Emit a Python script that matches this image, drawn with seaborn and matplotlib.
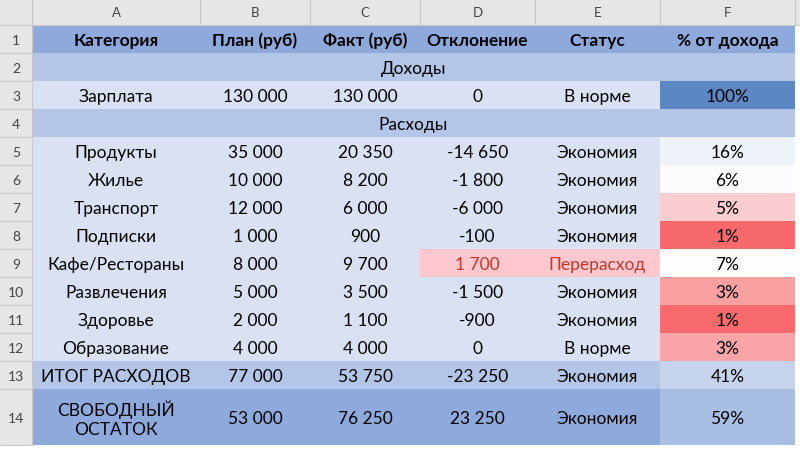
import matplotlib
matplotlib.use("Agg")
import matplotlib.pyplot as plt
from matplotlib.patches import Rectangle
import seaborn as sns

sns.set_theme(style="white")
plt.rcParams['font.family'] = ['Lato', 'DejaVu Sans']

headers = ["Категория", "План (руб)", "Факт (руб)", "Отклонение", "Статус", "% от дохода"]
categories = ["Продукты", "Жилье", "Транспорт", "Подписки", "Кафе/Рестораны",
              "Развлечения", "Здоровье", "Образование"]
plan = ["35 000", "10 000", "12 000", "1 000", "8 000", "5 000", "2 000", "4 000"]
fact = ["20 350", "8 200", "6 000", "900", "9 700", "3 500", "1 100", "4 000"]
dev = ["-14 650", "-1 800", "-6 000", "-100", "1 700", "-1 500", "-900", "0"]
status = ["Экономия"] * 4 + ["Перерасход", "Экономия", "Экономия", "В норме"]
pct = ["16%", "6%", "5%", "1%", "7%", "3%", "1%", "3%"]
pct_colors = ["#EEF2F9", "#FCFCFE", "#FBCDD0", "#F8696B", "#FDFDFE", "#F9A0A2", "#F86A6C", "#F9A5A7"]

fig = plt.figure(figsize=(8, 4.56), dpi=100)
ax = fig.add_axes([0, 0, 1, 1])
ax.set_xlim(0, 800)
ax.set_ylim(456, 0)
ax.axis("off")

col_x = [32, 200, 310, 420, 535, 660, 795]
row_y = [26, 54, 82, 110, 138, 166, 194, 222, 250, 278, 306, 334, 362, 390, 446]
FS = 12.5

def cell(c0, c1, r, color, text="", tcolor="black", bold=False):
    x0, x1 = col_x[c0], col_x[c1]
    y0, y1 = row_y[r], row_y[r + 1]
    ax.add_patch(Rectangle((x0, y0), x1 - x0, y1 - y0, facecolor=color, edgecolor="none"))
    if text:
        ax.text((x0 + x1) / 2, (y0 + y1) / 2 + 1, text, ha="center", va="center",
                fontsize=FS, color=tcolor, fontweight="bold" if bold else "normal",
                linespacing=1.25)

# Excel chrome
ax.add_patch(Rectangle((0, 0), 800, 26, facecolor="#E6E6E6", edgecolor="none"))
ax.add_patch(Rectangle((0, 0), 32, 446, facecolor="#E6E6E6", edgecolor="none"))
for i, l in enumerate("ABCDEF"):
    ax.text((col_x[i] + col_x[i + 1]) / 2, 13, l, ha="center", va="center", fontsize=9.5, color="#444444")
    ax.plot([col_x[i + 1]] * 2, [0, 26], color="#C8C8C8", lw=0.8)
for r in range(14):
    ax.text(16, (row_y[r] + row_y[r + 1]) / 2 + 1, str(r + 1), ha="center", va="center", fontsize=10, color="#444444")
    ax.plot([0, 32], [row_y[r + 1]] * 2, color="#C8C8C8", lw=0.8)
ax.plot([32, 32], [0, 446], color="#C8C8C8", lw=0.8)
ax.plot([0, 800], [26, 26], color="#C8C8C8", lw=0.8)
ax.add_patch(Rectangle((0, 446), 800, 10, facecolor="white", edgecolor="none"))

# header
for i, h in enumerate(headers):
    cell(i, i + 1, 0, "#8EA9DB", h, bold=True)
cell(0, 6, 1, "#B4C6E7", "Доходы")
for i, v in enumerate(["Зарплата", "130 000", "130 000", "0", "В норме"]):
    cell(i, i + 1, 2, "#D9E1F2", v)
cell(5, 6, 2, "#5B87C5", "100%")
cell(0, 6, 3, "#B4C6E7", "Расходы")

for k in range(len(categories)):
    r = 4 + k
    vals = [categories[k], plan[k], fact[k], dev[k], status[k]]
    for i, v in enumerate(vals):
        if k == 4 and i in (3, 4):
            cell(i, i + 1, r, "#FFC7CE", v, tcolor="#C0392B")
        else:
            cell(i, i + 1, r, "#D9E1F2", v)
    cell(5, 6, r, pct_colors[k], pct[k])

for i, v in enumerate(["ИТОГ РАСХОДОВ", "77 000", "53 750", "-23 250", "Экономия"]):
    cell(i, i + 1, 12, "#B4C6E7", v)
cell(5, 6, 12, "#C5D3EC", "41%")
for i, v in enumerate(["СВОБОДНЫЙ\nОСТАТОК", "53 000", "76 250", "23 250", "Экономия"]):
    cell(i, i + 1, 13, "#8EA9DB", v)
cell(5, 6, 13, "#A9BEE3", "59%")

fig.savefig("out.png", dpi=100)
